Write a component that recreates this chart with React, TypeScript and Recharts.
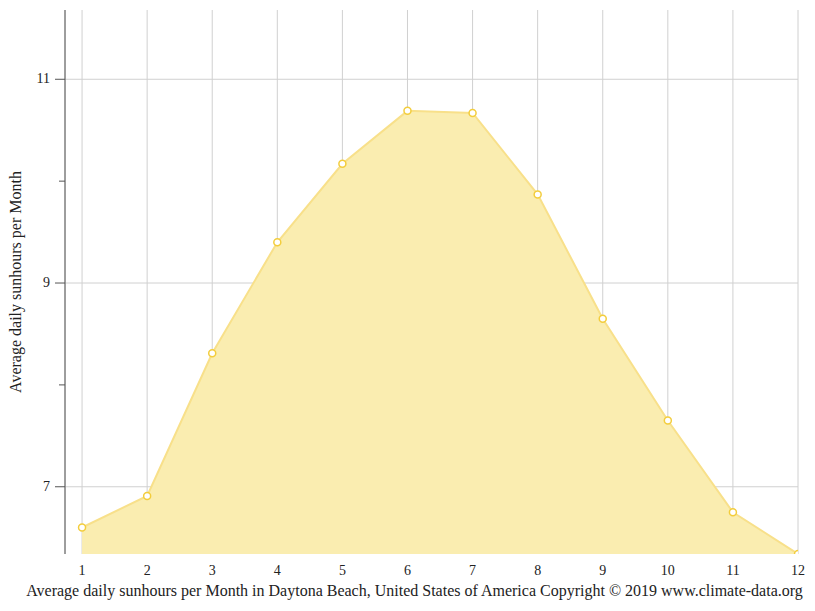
import React from 'react';
import { AreaChart, Area, XAxis, YAxis, CartesianGrid } from 'recharts';

const months = [1, 2, 3, 4, 5, 6, 7, 8, 9, 10, 11, 12];
const sunhours = [6.6, 6.91, 8.31, 9.4, 10.17, 10.69, 10.67, 9.87, 8.65, 7.65, 6.75, 6.34];
const yTicks = [7, 8, 9, 10, 11];
const yLabeled = [7, 9, 11];

const data = months.map((m, i) => ({ month: m, hours: sunhours[i] }));

const FONT = '"Liberation Serif", "Times New Roman", serif';

const YTick = (props: any) => {
  const { x, y, payload } = props;
  const labeled = yLabeled.includes(payload.value);
  return (
    <g>
      <line x1={x - (labeled ? 10 : 6)} y1={y} x2={x} y2={y} stroke="#555" strokeWidth={1} />
      {labeled && (
        <text x={x - 15} y={y} dy={4} textAnchor="end" fontSize={14} fill="#222" fontFamily={FONT}>
          {payload.value}
        </text>
      )}
    </g>
  );
};

const App: React.FC = () => {
  return (
    <div style={{ position: 'relative', width: 815, height: 611, fontFamily: FONT }}>
      <style>{'body{margin:0}'}</style>
      <AreaChart width={815} height={611} data={data} margin={{ top: 10, right: 17, left: 0, bottom: 0 }}>
        <CartesianGrid stroke="#d0d0d0" horizontalValues={yLabeled} />
        <XAxis
          dataKey="month"
          type="number"
          domain={[0.738, 12]}
          allowDataOverflow
          ticks={months}
          axisLine={false}
          tickLine={false}
          height={57}
          tickMargin={5}
          tick={{ fontSize: 14, fill: '#222', fontFamily: FONT }}
        />
        <YAxis
          type="number"
          domain={[6.34, 11.68]}
          allowDataOverflow
          ticks={yTicks}
          width={65}
          tickSize={0}
          tickMargin={0}
          tickLine={false}
          axisLine={{ stroke: '#555' }}
          tick={<YTick />}
          label={{
            value: 'Average daily sunhours per Month',
            angle: -90,
            position: 'insideLeft',
            dx: 10,
            style: { textAnchor: 'middle', fontSize: 16, fill: '#222', fontFamily: FONT },
          }}
        />
        <Area
          type="linear"
          dataKey="hours"
          stroke="#f8e08a"
          strokeWidth={2}
          fill="#faedb0"
          fillOpacity={1}
          dot={{ r: 3.5, stroke: '#f3cd3c', strokeWidth: 1.5, fill: '#fff', fillOpacity: 1 }}
          isAnimationActive={false}
        />
      </AreaChart>
      <div
        style={{
          position: 'absolute',
          left: 0,
          width: 829,
          top: 582,
          textAlign: 'center',
          fontSize: 16,
          color: '#222',
          whiteSpace: 'nowrap',
        }}
      >
        Average daily sunhours per Month in Daytona Beach, United States of America Copyright © 2019 www.climate-data.org
      </div>
    </div>
  );
};

export default App;
